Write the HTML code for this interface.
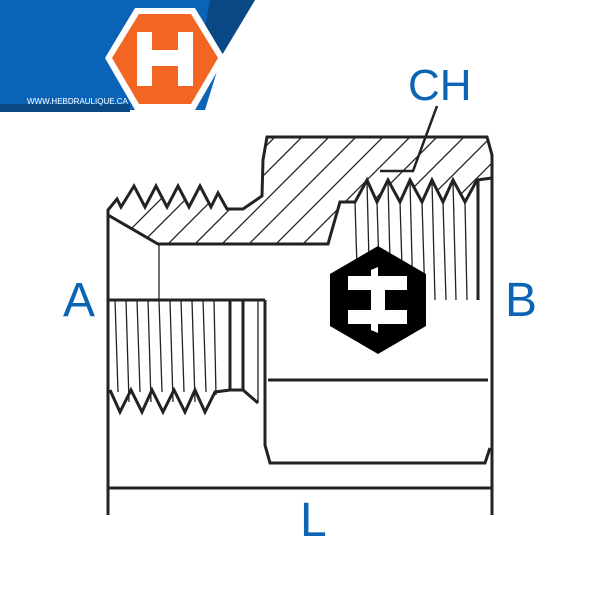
<!DOCTYPE html>
<html><head><style>
html,body{margin:0;padding:0;background:#fff;}
svg{display:block;}
text{font-family:"Liberation Sans",sans-serif;fill:#0b64b4;}
</style></head><body>
<svg width="600" height="600" viewBox="0 0 600 600" xmlns="http://www.w3.org/2000/svg">
<defs>
<clipPath id="hc">
<polygon points="108,210 117,199 121,207 134,186 145,207 156,186 167,207 178,186 189,207 200,186 211,207 218,193 227,209 243,209 262,196 263,160 267,137 487,137 492,155 492,178 477,180 465,202 453,180 443,202 432,180 422,202 410,180 400,202 388,180 377,202 367,180 355,202 340,202 328,244 158,244 108,215"/>
</clipPath>
</defs>
<!-- logo -->
<polygon points="0,0 255,0 222,55 205,110 0,110" fill="#0b63b8"/>
<polygon points="210,0 255,0 222,55 200,55" fill="#0a4785"/>
<polygon points="0,104 130,104 130,112 0,112" fill="#0a4785"/>
<polygon points="135,8 195,8 225,58 195,110 135,110 105,58" fill="#fff"/>
<polygon points="139,14 191,14 218,58 191,104 139,104 112,58" fill="#f26522"/>
<path d="M137,32h15v18h26v-18h15v54h-15v-20h-26v20h-15z" fill="#fff"/>
<text x="27" y="104" style="font-size:8px;fill:#fff">WWW.HEBDRAULIQUE.CA</text>

<!-- hatching -->
<g clip-path="url(#hc)" stroke="#222" stroke-width="1.3">
<g id="h">
<line x1="60" y1="300" x2="260" y2="100"/>
</g>
<line x1="85" y1="300" x2="285" y2="100"/><line x1="112" y1="300" x2="312" y2="100"/>
<line x1="139" y1="300" x2="339" y2="100"/><line x1="166" y1="300" x2="366" y2="100"/>
<line x1="193" y1="300" x2="393" y2="100"/><line x1="220" y1="300" x2="420" y2="100"/>
<line x1="247" y1="300" x2="447" y2="100"/><line x1="274" y1="300" x2="474" y2="100"/>
<line x1="301" y1="300" x2="501" y2="100"/><line x1="328" y1="300" x2="528" y2="100"/>
<line x1="355" y1="300" x2="555" y2="100"/><line x1="382" y1="300" x2="582" y2="100"/>
<line x1="409" y1="300" x2="609" y2="100"/>
</g>

<g fill="none" stroke="#222" stroke-width="3" stroke-linejoin="miter">
<polyline points="108,515 108,210 117,199 121,207 134,186 145,207 156,186 167,207 178,186 189,207 200,186 211,207 218,193 227,209 243,209 262,196 263,160 267,137 487,137 492,155 492,515"/>
<polyline points="108,215 158,244 328,244 340,202 355,202 367,180 377,202 388,180 400,202 410,180 422,202 432,180 443,202 453,180 465,202 477,180 492,178"/>
<polyline points="108,300 265,300"/>
<polyline points="110,390 120,412 131,390 142,412 152,390 163,412 174,390 185,412 195,390 205,412 215,392 230,390 243,390 258,403"/>
<line x1="230" y1="300" x2="230" y2="390"/>
<line x1="243" y1="300" x2="243" y2="390"/>
<polyline points="265,300 265,445 270,463 485,463 490,448"/>
<line x1="268" y1="380" x2="488" y2="380"/>
<line x1="108" y1="488" x2="492" y2="488"/>
<polyline points="380,171 413,171 437,106" stroke-width="2.5"/>
</g>
<g stroke="#222" stroke-width="1.3">
<line x1="159" y1="244" x2="159" y2="300"/>
<line x1="115" y1="300" x2="118" y2="392"/><line x1="126" y1="300" x2="129" y2="402"/>
<line x1="137" y1="300" x2="140" y2="392"/><line x1="148" y1="300" x2="151" y2="402"/>
<line x1="159" y1="300" x2="162" y2="392"/><line x1="170" y1="300" x2="173" y2="402"/>
<line x1="181" y1="300" x2="184" y2="392"/><line x1="192" y1="300" x2="195" y2="402"/>
<line x1="203" y1="300" x2="206" y2="392"/><line x1="214" y1="300" x2="216" y2="395"/>
<line x1="258" y1="300" x2="258" y2="403"/>
<line x1="355" y1="202" x2="358" y2="300"/><line x1="367" y1="182" x2="370" y2="300"/>
<line x1="377" y1="202" x2="380" y2="300"/><line x1="388" y1="182" x2="391" y2="300"/>
<line x1="400" y1="202" x2="403" y2="300"/><line x1="410" y1="182" x2="413" y2="300"/>
<line x1="422" y1="202" x2="425" y2="300"/><line x1="432" y1="182" x2="435" y2="300"/>
<line x1="443" y1="202" x2="446" y2="300"/><line x1="453" y1="182" x2="456" y2="300"/>
<line x1="465" y1="202" x2="467" y2="300"/><line x1="477" y1="182" x2="478" y2="300"/>
</g>
<line x1="478" y1="180" x2="478" y2="300" stroke="#222" stroke-width="3"/>

<!-- center hex logo -->
<polygon points="378,246 426,274 426,326 378,354 330,326 330,274" fill="#000"/>
<path d="M348,276h59v14h-22v20h22v14h-59v-14h23v-20h-23z" fill="#fff"/>
<polygon points="371,270 378,267 378,276 371,276" fill="#fff"/>
<polygon points="371,324 378,324 378,333 371,330" fill="#fff"/>

<text x="408" y="100" style="font-size:44px">CH</text>
<text x="63" y="316" style="font-size:48px">A</text>
<text x="505" y="316" style="font-size:48px">B</text>
<text x="300" y="536" style="font-size:48px">L</text>
</svg>
</body></html>
